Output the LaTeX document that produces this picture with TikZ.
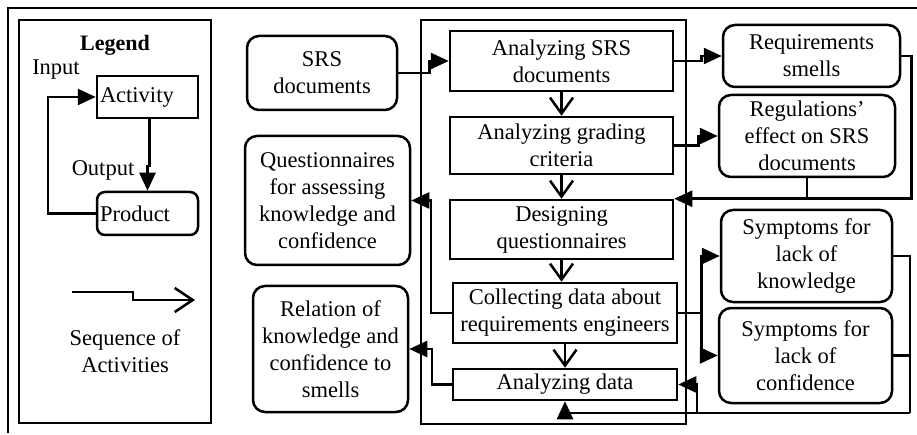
\documentclass[tikz,border=0pt]{standalone}
\usepackage{fontspec}
\setmainfont{Liberation Serif}
\usetikzlibrary{arrows.meta}

\begin{document}
\begin{tikzpicture}[x=1pt,y=-1pt,line width=2.5pt,
	txt/.style={font=\fontsize{22.5}{27}\selectfont,align=center,inner sep=1pt},
	act/.style={txt,draw,rectangle,minimum width=223pt},
	prod/.style={txt,draw,rounded corners=12pt},
	arr/.style={-{Triangle[length=18pt,width=16pt]}},
	nxt/.style={-{Straight Barb[length=16pt,width=23pt]}}]
			\useasboundingbox (0,0) rectangle (917,435);
			% frames
			\draw (8,433) -- (8,8) -- (917,8);
			\draw (19,20) rectangle (211,423);
			\draw (421,20) rectangle (686,424);
			% legend
			\node[font=\fontsize{22}{26}\selectfont\bfseries] (legend) at (115,45) {Legend};
			\node[txt] (input) at (56,70) {Input};
			\node[txt,draw,minimum width=101pt,minimum height=42pt,text width=95pt,align=left] (act) at (147.5,97) {Activity};
			\node[txt,draw,rounded corners=8pt,minimum width=101pt,minimum height=43pt,text width=95pt,align=left] (prod) at (147.5,213.5) {Product};
			\node[txt] (output) at (103,170) {Output};
			\draw[arr] ([xshift=2pt]act.south) -- ++(0,47) -| (prod.north);
			\draw[arr] (prod.west) -- ++(-48,0) |- (act.west);
			\coordinate (s1) at (72,292);
			\coordinate (s2) at (195,300);
			\draw[-{Straight Barb[length=18pt,width=24pt]}] (s1) -- ++(61,0) -- ++(0,8) -- (s2);
			\node[txt] (seqtxt) at (125,351) {Sequence of\\Activities};
			% products
			\node[prod,minimum width=150pt,minimum height=74pt] (srs) at (322,73) {SRS\\documents};
			\node[prod,minimum width=165pt,minimum height=129pt] (quest) at (327.5,200.5) {Questionnaires\\for assessing\\knowledge and\\confidence};
			\node[prod,minimum width=155pt,minimum height=126pt] (rel) at (330.5,349) {Relation of\\knowledge and\\confidence to\\smells};
			\node[prod,minimum width=177pt,minimum height=62pt] (smells) at (811.5,56) {Requirements\\smells};
			\node[prod,minimum width=176pt,minimum height=82pt] (regul) at (807,136) {Regulations'\\effect on SRS\\documents};
			\node[prod,minimum width=171pt,minimum height=92pt] (symk) at (806.5,256) {Symptoms for\\lack of\\knowledge};
			\node[prod,minimum width=173pt,minimum height=95pt] (symc) at (805.5,355.5) {Symptoms for\\lack of\\confidence};
			% activities
			\node[act,minimum height=60pt] (a1) at (561.5,61) {Analyzing SRS\\documents};
			\node[act,minimum height=57pt] (a2) at (561.5,145.5) {Analyzing grading\\criteria};
			\node[act,minimum height=59pt] (a3) at (561.5,229.5) {Designing\\questionnaires};
			\node[act,minimum width=224pt,minimum height=60pt] (a4) at (565,313) {Collecting data about\\requirements engineers};
			\node[act,minimum width=224pt,minimum height=31pt] (a5) at (565,384.5) {Analyzing data};
			% sequence
			\draw[nxt] (a1.south) -- (a2.north);
			\draw[nxt] (a2.south) -- (a3.north);
			\draw[nxt] (a3.south) -- (a3.south |- a4.north);
			\draw[nxt] (a4.south) -- (a5.north);
			% inputs and outputs
			\draw[arr] (srs.east) -- ++(31,0) |- (a1.west);
			\draw[arr] (a1.east) -- ++(27,0) |- (smells.west);
			\draw[arr] (a2.east) -- ++(24,0) |- (regul.west);
			\draw[arr] (smells.east) -- ++(10,0) |- (a3.north east);
			\draw (regul.south) -- (regul.south |- a3.north);
			\draw (a4.east) -- ++(23,0) coordinate (split);
			\draw[arr] (split) |- (symk.west);
			\draw[arr] (split) |- (symc.west);
			\coordinate (back) at (910,413);
			\coordinate (turn) at (697,413);
			\draw (symk.east) -| (back);
			\draw (symc.east) -- (symc.east -| back);
			\draw[arr] (back) -- (turn) |- (a5.east);
			\draw[arr] (turn) -- (a5.south |- back) -- (a5.south);
			\draw[arr] (a4.west) -- ++(-21,0) |- (quest.east);
			\draw[arr] (a5.west) -- ++(-20,0) |- (rel.east);
		\end{tikzpicture}
\end{document}
